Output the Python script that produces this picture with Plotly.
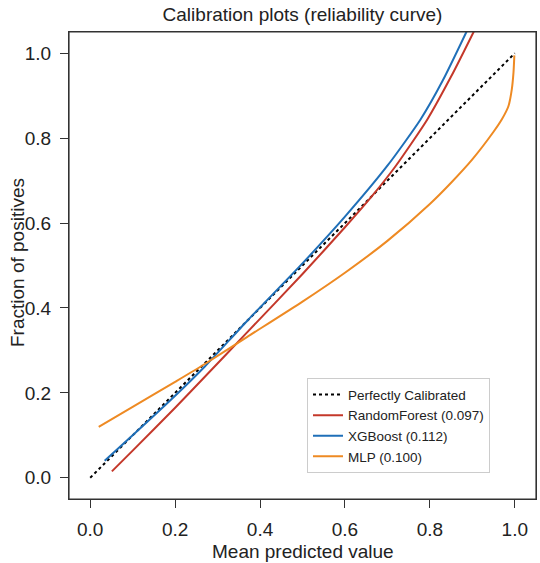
import plotly.graph_objects as go

# Perfectly calibrated reference
diag_x = [0.0, 1.0]
diag_y = [0.0, 1.0]

# RandomForest (0.097)
rf_x = [0.051, 0.1, 0.2, 0.27, 0.37, 0.5, 0.6, 0.665, 0.72, 0.794, 0.85, 0.903, 0.92]
rf_y = [0.015, 0.064, 0.165, 0.238, 0.343, 0.48, 0.59, 0.665, 0.735, 0.844, 0.945, 1.05, 1.085]

# XGBoost (0.112)
xgb_x = [0.034, 0.1, 0.2, 0.27, 0.37, 0.5, 0.6, 0.7, 0.778, 0.83, 0.886, 0.9]
xgb_y = [0.04, 0.1, 0.193, 0.262, 0.37, 0.505, 0.615, 0.735, 0.844, 0.935, 1.05, 1.08]

# MLP (0.100)
mlp_x = [0.02, 0.1, 0.2, 0.27, 0.37, 0.5, 0.6, 0.7, 0.8, 0.85, 0.9, 0.95, 0.97, 0.985, 0.993, 0.997, 0.999]
mlp_y = [0.12, 0.167, 0.226, 0.268, 0.332, 0.415, 0.483, 0.558, 0.645, 0.695, 0.75, 0.815, 0.845, 0.875, 0.915, 0.955, 0.995]

names = ["Perfectly Calibrated", "RandomForest (0.097)", "XGBoost (0.112)", "MLP (0.100)"]
x_ticks = [0.0, 0.2, 0.4, 0.6, 0.8, 1.0]

FONT = "Liberation Sans, Arial, Helvetica, sans-serif"
TXT = "#222222"
FRAME = "#333333"

fig = go.Figure()
fig.add_trace(go.Scatter(x=diag_x, y=diag_y, mode="lines", name=names[0],
                         line=dict(color="black", width=2, dash="dot")))
fig.add_trace(go.Scatter(x=rf_x, y=rf_y, mode="lines", name=names[1],
                         line=dict(color="#C4382A", width=2, shape="spline", smoothing=0.6)))
fig.add_trace(go.Scatter(x=xgb_x, y=xgb_y, mode="lines", name=names[2],
                         line=dict(color="#1F6FB8", width=2, shape="spline", smoothing=0.6)))
fig.add_trace(go.Scatter(x=mlp_x, y=mlp_y, mode="lines", name=names[3],
                         line=dict(color="#EE8A23", width=2, shape="spline", smoothing=0.6)))

axis_common = dict(
    range=[-0.05, 1.05], tickvals=x_ticks, tickformat=".1f",
    showgrid=False, zeroline=False, showline=True, mirror=True,
    linecolor=FRAME, linewidth=1.2, ticks="outside", ticklen=8,
    tickcolor=FRAME, tickwidth=1.2, automargin=False,
    ticklabelstandoff=5,
    tickfont=dict(size=19, color=TXT, family=FONT),
)

fig.update_layout(
    width=540, height=563,
    margin=dict(l=69, r=4, t=32, b=64),
    paper_bgcolor="white", plot_bgcolor="white",
    font=dict(family=FONT, color=TXT),
    title=dict(text="Calibration plots (reliability curve)", x=0.5, xref="paper",
               y=1 - 14 / 563, yref="container", xanchor="center", yanchor="middle",
               font=dict(size=19, color=TXT, family=FONT)),
    xaxis=dict(**axis_common),
    yaxis=dict(**axis_common),
    legend=dict(x=0.9015, xanchor="right", y=0.055, yanchor="bottom",
                bgcolor="white", bordercolor="#cccccc", borderwidth=1,
                font=dict(size=13.5, color=TXT, family=FONT),
                tracegroupgap=0),
    showlegend=True,
    shapes=[dict(type="rect", xref="paper", yref="paper", x0=0, y0=0, x1=1, y1=1,
                 line=dict(color=FRAME, width=1.2), fillcolor="rgba(0,0,0,0)",
                 layer="above")],
    annotations=[
        dict(text="Mean predicted value", xref="paper", yref="paper",
             x=0.5, y=(499 - 551) / 467, xanchor="center", yanchor="middle",
             showarrow=False, font=dict(size=19, color=TXT, family=FONT)),
        dict(text="Fraction of positives", xref="paper", yref="paper",
             x=(17 - 69) / 467, y=(499 - 263) / 467, xanchor="center", yanchor="middle",
             textangle=-90, showarrow=False, font=dict(size=19, color=TXT, family=FONT)),
    ],
)

fig.write_html("out.html", config={"displayModeBar": False},
               post_script="document.body.style.margin='0';")
